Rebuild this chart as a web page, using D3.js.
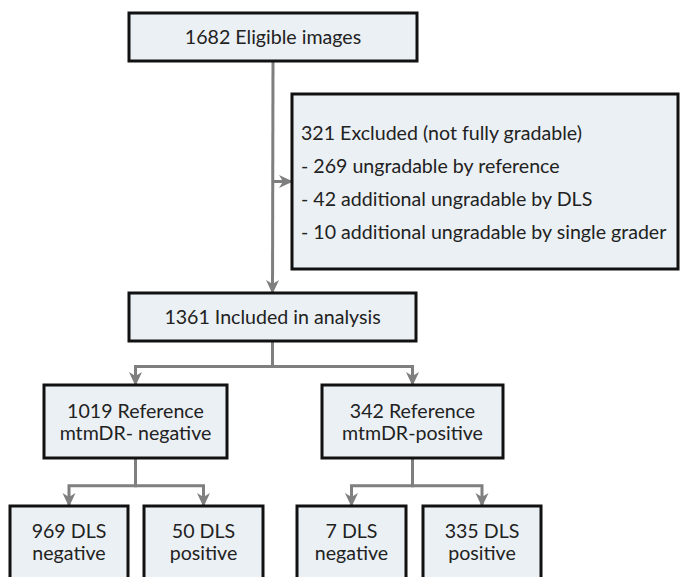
<!DOCTYPE html>
<html lang="en">
<head>
    <meta charset="utf-8">
    <script src="https://cdn.jsdelivr.net/npm/d3@7"></script>
    <style>
        body { margin: 0; background: #fff; }
        svg text { font-family: Lato, "Open Sans", sans-serif; fill: #222; }
    </style>
</head>
<body>
<div id="svg"></div>

<script>
    // counts and labels for each step of the flow
    var nodeIds = ["eligible", "excluded", "included", "refNeg", "refPos", "negNeg", "negPos", "posNeg", "posPos"];
    var nodeCounts = [1682, 321, 1361, 1019, 342, 969, 50, 7, 335];
    var nodeLines = [
        ["{n} Eligible images"],
        ["{n} Excluded (not fully gradable)",
         "- 269 ungradable by reference",
         "- 42 additional ungradable by DLS",
         "- 10 additional ungradable by single grader"],
        ["{n} Included in analysis"],
        ["{n} Reference", "mtmDR- negative"],
        ["{n} Reference", "mtmDR-positive"],
        ["{n} DLS", "negative"],
        ["{n} DLS", "positive"],
        ["{n} DLS", "negative"],
        ["{n} DLS", "positive"]
    ];
    // parent -> children links
    var linkFrom = ["eligible", "eligible", "included", "included", "refNeg", "refNeg", "refPos", "refPos"];
    var linkTo   = ["included", "excluded", "refNeg", "refPos", "negNeg", "negPos", "posNeg", "posPos"];

    var width = 680, height = 577;

    // layout: box geometry (x0, y0, x1, y1)
    var layout = {
        eligible: [129, 13, 417, 61],
        excluded: [292, 94, 678, 269],
        included: [129, 293, 416, 341],
        refNeg:   [44, 385, 227, 458],
        refPos:   [322, 385, 503, 458],
        negNeg:   [10, 506, 128, 600],
        negPos:   [144, 506, 263, 600],
        posNeg:   [297, 506, 406, 600],
        posPos:   [423, 506, 541, 600]
    };

    var svg = d3.select("#svg").append("svg")
        .attr("width", width)
        .attr("height", height);

    svg.append("defs").append("marker")
        .attr("id", "arrow")
        .attr("viewBox", "0 0 14 14")
        .attr("refX", 13).attr("refY", 7)
        .attr("markerWidth", 14).attr("markerHeight", 14)
        .attr("markerUnits", "userSpaceOnUse")
        .attr("orient", "auto")
      .append("path")
        .attr("d", "M0,0.5 L14,7 L0,13.5 L4,7 Z")
        .style("fill", "#7f7f7f");

    var nodes = nodeIds.map(function(id, i) {
        var b = layout[id];
        return {id: id, n: nodeCounts[i], lines: nodeLines[i],
                x0: b[0], y0: b[1], x1: b[2], y1: b[3], cx: (b[0] + b[2]) / 2};
    });
    var byId = {};
    nodes.forEach(function(d){ byId[d.id] = d; });

    // connectors
    var links = linkFrom.map(function(f, i){ return {s: byId[f], t: byId[linkTo[i]]}; });

    var linkPath = function(l) {
        var s = l.s, t = l.t;
        if (t.id == "included") {
            return d3.line()([[s.cx, s.y1], [t.cx, t.y0]]);
        }
        if (t.id == "excluded") {
            var my = (t.y0 + t.y1) / 2;
            return d3.line()([[s.cx, my], [t.x0, my]]);
        }
        // elbow: down from parent, across, down into child
        var ymid = s.y1 + (t.y0 - s.y1) * 0.58;
        return d3.line()([[s.cx, s.y1], [s.cx, ymid], [t.cx, ymid], [t.cx, t.y0]]);
    };

    svg.selectAll("path.link")
        .data(links)
      .enter().append("path")
        .attr("class", "link")
        .attr("d", linkPath)
        .attr("marker-end", "url(#arrow)")
        .style("fill", "none")
        .style("stroke", "#7f7f7f")
        .style("stroke-width", 3);

    // boxes
    var g = svg.selectAll("g.node")
        .data(nodes)
      .enter().append("g")
        .attr("class", "node");

    g.append("rect")
        .attr("x", function(d){ return d.x0; })
        .attr("y", function(d){ return d.y0; })
        .attr("width", function(d){ return d.x1 - d.x0; })
        .attr("height", function(d){ return d.y1 - d.y0; })
        .style("fill", "#ebf0f4")
        .style("stroke", "#111")
        .style("stroke-width", 3);

    var textY = {
        eligible: [37],
        excluded: [133, 166, 199, 232],
        included: [317],
        refNeg: [411, 433], refPos: [411, 433],
        negNeg: [531, 553], negPos: [531, 553], posNeg: [531, 553], posPos: [531, 553]
    };

    g.each(function(d) {
        var left = d.id == "excluded";
        d3.select(this).selectAll("text")
            .data(d.lines)
          .enter().append("text")
            .attr("x", left ? d.x0 + 9 : d.cx)
            .attr("y", function(t, i){ return textY[d.id][i]; })
            .attr("dy", "0.35em")
            .attr("text-anchor", left ? "start" : "middle")
            .style("font-size", "19.6px")
            .text(function(t){ return t.replace("{n}", d.n); });
    });
</script>
</body>
</html>
